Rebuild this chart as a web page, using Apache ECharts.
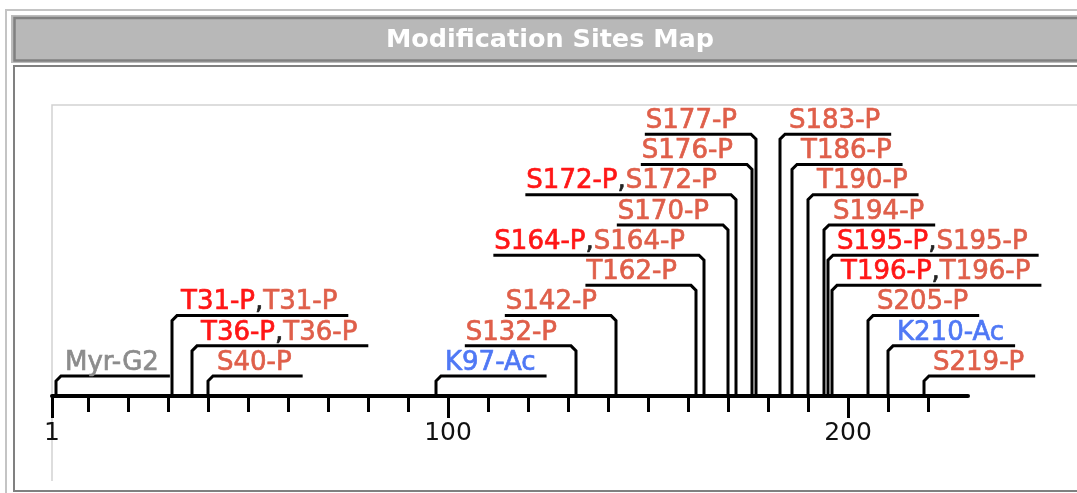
<!DOCTYPE html>
<html>
<head>
<meta charset="utf-8">
<script src="https://cdn.jsdelivr.net/npm/echarts@6/dist/echarts.min.js"></script>
<style>
html, body { margin: 0; padding: 0; background: #fff; }
#chart { width: 1077px; height: 493px; }
</style>
</head>
<body>
<div id="chart"></div>
<script>
// modification sites, residue numbers along the protein
var sitePos = [2, 31, 36, 40, 97, 132, 142, 162, 164, 170, 172, 176, 177, 183, 186, 190, 194, 195, 196, 205, 210, 219];
var siteNames = ['Myr-G2', 'T31-P', 'T36-P', 'S40-P', 'K97-Ac', 'S132-P', 'S142-P', 'T162-P', 'S164-P', 'S170-P',
    'S172-P', 'S176-P', 'S177-P', 'S183-P', 'T186-P', 'T190-P', 'S194-P', 'S195-P', 'T196-P', 'S205-P', 'K210-Ac', 'S219-P'];
// 1 = site also reported by low-throughput work (red name before the comma)
var siteLtp = [0, 1, 1, 0, 0, 0, 0, 0, 1, 0, 1, 0, 0, 0, 0, 0, 0, 1, 1, 0, 0, 0];
// label row above the axis and the side the label arm points to
var siteRow = [1, 3, 2, 1, 1, 2, 3, 4, 5, 6, 7, 8, 9, 9, 8, 7, 6, 5, 4, 3, 2, 1];
var siteSide = ['R', 'R', 'R', 'R', 'R', 'L', 'L', 'L', 'L', 'L', 'L', 'L', 'L', 'R', 'R', 'R', 'R', 'R', 'R', 'R', 'R', 'R'];

var seqStart = 1;
var seqEnd = 230;
var minorTicks = [10, 20, 30, 40, 50, 60, 70, 80, 90, 100, 110, 120, 130, 140, 150, 160, 170, 180, 190, 200, 210, 220];
var majorTicks = [1, 100, 200];

var rowBase = 0.34;   // axis line, in row units
var labelFont = '26px "DejaVu Sans"';
var modColors = { P: '#df5f4a', Ac: '#4f78f5', Myr: '#8c8c8c' };
var ltpColor = '#ff1616';

var measureCtx = document.createElement('canvas').getContext('2d');
measureCtx.font = labelFont;

function modOf(name) {
    if (name.indexOf('Myr') === 0) return 'Myr';
    return name.split('-')[1];
}

function labelText(i) {
    var s = '{' + modOf(siteNames[i]) + '|' + siteNames[i] + '}';
    if (siteLtp[i]) s = '{ltp|' + siteNames[i] + '}{sep|,}' + s;
    return s;
}

function labelWidth(i) {
    var plain = siteLtp[i] ? siteNames[i] + ',' + siteNames[i] : siteNames[i];
    return measureCtx.measureText(plain).width;
}

// a thin stroke in the same colour makes the glyphs a bit heavier
function richStyle(c) {
    return { fill: c, color: c, stroke: c, lineWidth: 0.7, font: labelFont, lineHeight: 26 };
}
var rich = {
    ltp: richStyle(ltpColor),
    sep: richStyle('#222'),
    P: richStyle(modColors.P),
    Ac: richStyle(modColors.Ac),
    Myr: richStyle(modColors.Myr)
};

function renderSite(params, api) {
    var i = params.dataIndex;
    var base = api.coord([api.value(0), rowBase]);
    var top = api.coord([api.value(0), api.value(1)]);
    var x = base[0], y = top[1];
    var dir = siteSide[i] === 'L' ? -1 : 1;
    var len = labelWidth(i) + 20;
    var c = 5;
    var tx = dir > 0 ? x + 9 : x - len + 1;
    return {
        type: 'group',
        children: [{
            type: 'polyline',
            shape: { points: [[x, base[1]], [x, y + c], [x + dir * c, y], [x + dir * len, y]] },
            style: { stroke: '#000', lineWidth: 3, fill: null }
        }, {
            type: 'text',
            style: {
                x: tx, y: y,
                text: labelText(i),
                rich: rich,
                font: labelFont,
                align: 'left', textAlign: 'left',
                verticalAlign: 'bottom', textVerticalAlign: 'bottom'
            }
        }]
    };
}

var data = [];
for (var i = 0; i < sitePos.length; i++) data.push([sitePos[i], siteRow[i]]);

var chart = echarts.init(document.getElementById('chart'));
chart.setOption({
    animation: false,
    backgroundColor: '#fff',
    graphic: [
        { type: 'rect', silent: true, z: -10, shape: { x: 6, y: 10, width: 1200, height: 600 },
          style: { fill: null, stroke: '#c4c4c4', lineWidth: 2 } },
        { type: 'rect', silent: true, z: -9, shape: { x: 11, y: 15, width: 1200, height: 48 },
          style: { fill: '#bcbcbc' } },
        { type: 'rect', silent: true, z: -8, shape: { x: 14.5, y: 18, width: 1200, height: 42.5 },
          style: { fill: '#b8b8b8', stroke: '#808080', lineWidth: 2.5 } },
        { type: 'text', silent: true, z: -7,
          style: { text: 'Modification Sites Map', x: 550, y: 40, fill: '#fff',
                   font: 'bold 25.5px "DejaVu Sans"', align: 'center', textAlign: 'center',
                   verticalAlign: 'middle', textVerticalAlign: 'middle' } },
        { type: 'rect', silent: true, z: -10, shape: { x: 14, y: 66, width: 1200, height: 425 },
          style: { fill: null, stroke: '#808080', lineWidth: 2 } },
        { type: 'polyline', silent: true, z: -10, shape: { points: [[52, 481], [52, 105], [1100, 105]] },
          style: { fill: null, stroke: '#d2d2d2', lineWidth: 1.5 } }
    ],
    grid: { left: 52, right: 109, top: 104, bottom: 97 },
    xAxis: [{
        type: 'value', min: seqStart, max: seqEnd, position: 'bottom',
        axisLine: { lineStyle: { color: '#000', width: 4 } },
        axisTick: { customValues: minorTicks, length: 16, lineStyle: { color: '#000', width: 3 } },
        axisLabel: { show: false },
        splitLine: { show: false }
    }, {
        type: 'value', min: seqStart, max: seqEnd, position: 'bottom',
        axisLine: { show: false },
        axisTick: { customValues: majorTicks, length: 22, lineStyle: { color: '#000', width: 3 } },
        axisLabel: { customValues: majorTicks, margin: 25, color: '#111', fontSize: 25, fontFamily: 'DejaVu Sans' },
        splitLine: { show: false }
    }],
    yAxis: { type: 'value', min: rowBase, max: 10, show: false },
    series: [{
        type: 'custom',
        clip: false,
        xAxisIndex: 0,
        renderItem: renderSite,
        data: data
    }]
});
</script>
</body>
</html>
